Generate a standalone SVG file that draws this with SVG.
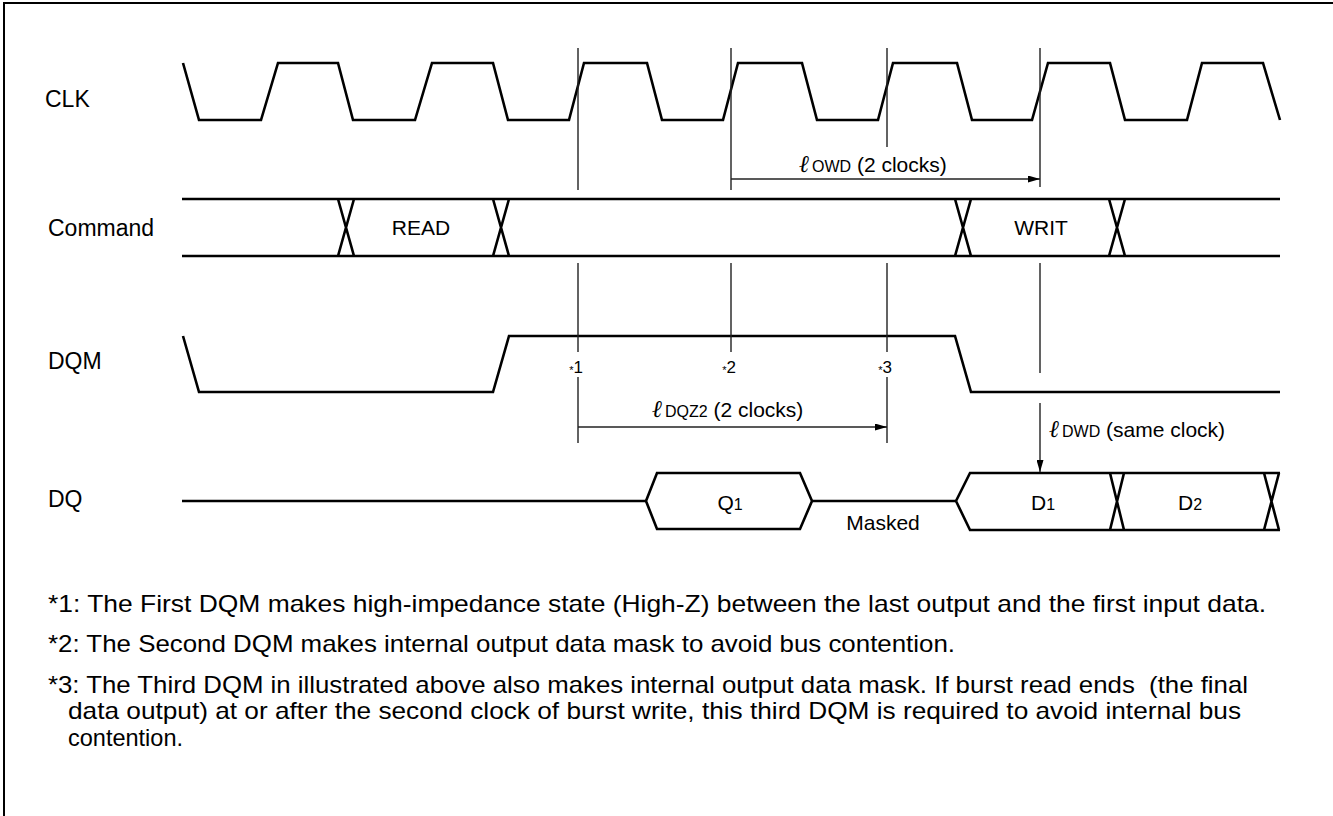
<svg xmlns="http://www.w3.org/2000/svg" width="1333" height="816" viewBox="0 0 1333 816">
<defs>
<style>
.wave{fill:none;stroke:#000;stroke-width:2.6;stroke-linejoin:miter}
.guide{fill:none;stroke:#222;stroke-width:1.4}
.arr{fill:none;stroke:#222;stroke-width:1.4}
.lbl{font-family:"Liberation Sans",Arial,sans-serif;font-size:23px;fill:#000}
.in{font-family:"Liberation Sans",Arial,sans-serif;font-size:21px;fill:#000}
.sub{font-size:16px}
.ell{font-size:24px;font-family:"DejaVu Serif","Liberation Serif",serif;font-style:italic}
.star{font-family:"Liberation Sans",Arial,sans-serif;font-size:17px;fill:#000}
.note{font-family:"Liberation Sans",Arial,sans-serif;font-size:24px;fill:#000;white-space:pre}
</style>
<marker id="ah" viewBox="0 0 12 7" markerWidth="12" markerHeight="7" refX="12" refY="3.5" orient="auto" markerUnits="userSpaceOnUse">
<path d="M0,0 L12,3.5 L0,7 z" fill="#000"/>
</marker>
</defs>
<rect width="1333" height="816" fill="#fff"/>
<path d="M4,816 V3 H1333" fill="none" stroke="#000" stroke-width="2"/>

<g id="clk">
<text class="lbl" x="45" y="107">CLK</text>
<polyline class="wave" points="183,63 199,120 261,120 278,63 338,63 353,120 415,120 432,63 493,63 508,120 569,120 584,63 647,63 662,120 723,120 738,63 802,63 817,120 878,120 893,63 957,63 972,120 1032,120 1048,63 1110,63 1125,120 1187,120 1202,63 1263,63 1280,120"/>
</g>

<g id="command">
<text class="lbl" x="48" y="236">Command</text>
<path class="wave" d="M182,199 H1280 M182,256 H1280 M338,199 L354,256 M354,199 L338,256 M493,199 L509,256 M509,199 L493,256 M955,199 L971,256 M971,199 L955,256 M1109,199 L1125,256 M1125,199 L1109,256"/>
<text class="in" x="421" y="235" text-anchor="middle">READ</text>
<text class="in" x="1041" y="235" text-anchor="middle">WRIT</text>
</g>

<g id="dqm">
<text class="lbl" x="48" y="369">DQM</text>
<polyline class="wave" points="183,336 199,392 493,392 509,336 955,336 971,392 1280,392"/>
<text class="star" x="576" y="373" text-anchor="middle"><tspan font-size="11" dy="1">*</tspan><tspan dy="-1">1</tspan></text>
<text class="star" x="729" y="373" text-anchor="middle"><tspan font-size="11" dy="1">*</tspan><tspan dy="-1">2</tspan></text>
<text class="star" x="885" y="373" text-anchor="middle"><tspan font-size="11" dy="1">*</tspan><tspan dy="-1">3</tspan></text>
</g>

<g id="dq">
<text class="lbl" x="48" y="507">DQ</text>
<path class="wave" d="M182,501 H646 M812,501 H956"/>
<path class="wave" d="M646,501 L657,473 H800 L812,501 L800,529 H657 Z"/>
<path class="wave" d="M956,501 L970,473 H1280 M956,501 L970,530 H1280 M1110,473 L1124,530 M1124,473 L1110,530 M1264,473 L1279,530 M1279,473 L1264,530"/>
<text class="in" x="730" y="510" text-anchor="middle">Q<tspan class="sub">1</tspan></text>
<text class="in" x="1043" y="510" text-anchor="middle">D<tspan class="sub">1</tspan></text>
<text class="in" x="1190" y="510" text-anchor="middle">D<tspan class="sub">2</tspan></text>
<text class="in" x="883" y="530" text-anchor="middle">Masked</text>
</g>

<g id="connectors">
<path class="guide" d="M578,48 V190 M578,263 V352 M578,377 V443 M731,48 V190 M731,263 V352 M887,48 V147 M887,263 V352 M887,377 V443 M1040,48 V187 M1040,263 V373"/>
<path class="arr" d="M731,179 H1040" marker-end="url(#ah)"/>
<path class="arr" d="M578,427 H887" marker-end="url(#ah)"/>
<path class="arr" d="M1040,403 V472" marker-end="url(#ah)"/>
<text class="in" x="799" y="172"><tspan class="ell">ℓ</tspan><tspan class="sub" dx="3">OWD</tspan> (2 clocks)</text>
<text class="in" x="652" y="417"><tspan class="ell">ℓ</tspan><tspan class="sub" dx="3">DQZ2</tspan> (2 clocks)</text>
<text class="in" x="1049" y="437"><tspan class="ell">ℓ</tspan><tspan class="sub" dx="3">DWD</tspan> (same clock)</text>
</g>

<g id="notes">
<text class="note" x="48" y="612" textLength="1218" lengthAdjust="spacingAndGlyphs">*1: The First DQM makes high-impedance state (High-Z) between the last output and the first input data.</text>
<text class="note" x="48" y="652" textLength="907" lengthAdjust="spacingAndGlyphs">*2: The Second DQM makes internal output data mask to avoid bus contention.</text>
<text class="note" x="48" y="693" textLength="1200" lengthAdjust="spacingAndGlyphs">*3: The Third DQM in illustrated above also makes internal output data mask. If burst read ends  (the final</text>
<text class="note" x="68" y="719" textLength="1173" lengthAdjust="spacingAndGlyphs">data output) at or after the second clock of burst write, this third DQM is required to avoid internal bus</text>
<text class="note" x="68" y="746" textLength="115" lengthAdjust="spacingAndGlyphs">contention.</text>
</g>
</svg>
